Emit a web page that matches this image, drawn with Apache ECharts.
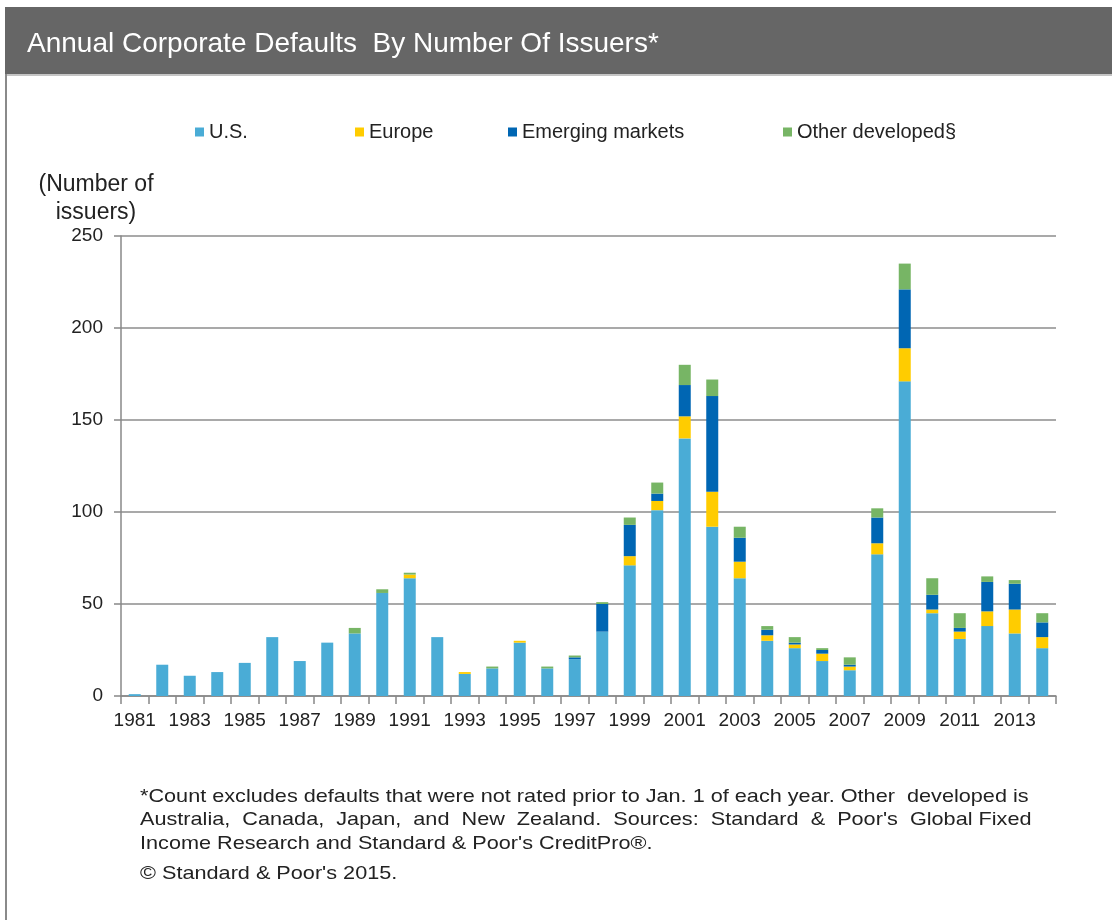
<!DOCTYPE html>
<html>
<head>
<meta charset="utf-8">
<title>Annual Corporate Defaults By Number Of Issuers</title>
<script src="https://cdn.jsdelivr.net/npm/echarts@6/dist/echarts.min.js"></script>
<style>
  html, body { margin: 0; padding: 0; background: #fff; }
  #chart { width: 1112px; height: 920px; }
</style>
</head>
<body>
<div id="chart"></div>
<script>
// 数据
const years = ['1981','1982','1983','1984','1985','1986','1987','1988','1989','1990',
  '1991','1992','1993','1994','1995','1996','1997','1998','1999','2000',
  '2001','2002','2003','2004','2005','2006','2007','2008','2009','2010',
  '2011','2012','2013','2014']
const usData = [1,17,11,13,18,32,19,29,34,56,64,32,12,15,29,15,20,35,71,101,140,92,64,30,26,19,14,77,171,45,31,38,34,26]
const europeData = [0,0,0,0,0,0,0,0,0,0,2,0,1,0,1,0,0,0,5,5,12,19,9,3,2,4,2,6,18,2,4,8,13,6]
const emergingData = [0,0,0,0,0,0,0,0,0,0,0,0,0,0,0,0,1,15,17,4,17,52,13,3,1,2,1,14,32,8,2,16,14,8]
const otherData = [0,0,0,0,0,0,0,0,3,2,1,0,0,1,0,1,1,1,4,6,11,9,6,2,3,1,4,5,14,9,8,3,2,5]
const yTicks = [0, 50, 100, 150, 200, 250]

const seriesNames = ['U.S.', 'Europe', 'Emerging markets', 'Other developed§']
const colors = ['#4aacd6', '#ffcc00', '#0066b3', '#77b565']

const font = "'Liberation Sans', Arial, sans-serif"

const chart = echarts.init(document.getElementById('chart'))

const makeLegend = (name, left) => ({
  data: [name],
  left: left,
  top: 117,
  icon: 'rect',
  itemWidth: 9,
  itemHeight: 9,
  itemGap: 5,
  selectedMode: false,
  textStyle: { fontFamily: font, fontSize: 20, color: '#222' }
})

const option = {
  backgroundColor: '#fff',
  animation: false,
  color: colors,
  legend: [
    makeLegend(seriesNames[0], 190),
    makeLegend(seriesNames[1], 350),
    makeLegend(seriesNames[2], 503),
    makeLegend(seriesNames[3], 778)
  ],
  grid: { left: 121, right: 56, top: 236, bottom: 224 },
  xAxis: {
    type: 'category',
    data: years,
    axisLine: { lineStyle: { color: '#888', width: 1.5 } },
    axisTick: { show: true, interval: 0, length: 8, lineStyle: { color: '#888', width: 1.5 } },
    axisLabel: {
      interval: 1,
      margin: 15,
      fontFamily: font,
      fontSize: 19,
      color: '#222'
    }
  },
  yAxis: {
    type: 'value',
    min: yTicks[0],
    max: yTicks[yTicks.length - 1],
    interval: 50,
    axisLine: { show: true, lineStyle: { color: '#888', width: 1.5 } },
    axisTick: { show: true, length: 7, lineStyle: { color: '#888', width: 1.5 } },
    axisLabel: { margin: 18, fontFamily: font, fontSize: 19, color: '#222' },
    splitLine: { lineStyle: { color: '#8c8c8c', width: 1.5 } }
  },
  series: [usData, europeData, emergingData, otherData].map((d, i) => ({
    name: seriesNames[i],
    type: 'bar',
    stack: 'total',
    barWidth: 12,
    itemStyle: { color: colors[i] },
    data: d
  })),
  graphic: [
    // 标题栏
    { type: 'rect', left: 5, top: 7, shape: { width: 1107, height: 67 }, style: { fill: '#666' }, z: 0 },
    { type: 'rect', left: 5, top: 74, shape: { width: 1107, height: 2 }, style: { fill: '#c4c4c4' }, z: 0 },
    { type: 'rect', left: 5, top: 74, shape: { width: 2, height: 846 }, style: { fill: '#8a8a8a' }, z: 0 },
    {
      type: 'text', x: 27, y: 44,
      style: {
        text: 'Annual Corporate Defaults  By Number Of Issuers*', fill: '#fff',
        font: '28px ' + font, verticalAlign: 'middle'
      }
    },
    {
      type: 'text', x: 96, y: 171,
      style: {
        text: '(Number of\nissuers)', fill: '#222', font: '23px ' + font,
        align: 'center', lineHeight: 28
      }
    },
    // 脚注
    {
      type: 'text', x: 140, y: 785, scaleX: 1.14,
      style: {
        text: '*Count excludes defaults that were not rated prior to Jan. 1 of each year. Other  developed is\n' +
          'Australia,  Canada,  Japan,  and  New  Zealand.  Sources:  Standard  &  Poor\'s  Global Fixed\n' +
          'Income Research and Standard & Poor\'s CreditPro®.',
        fill: '#222', font: '19px ' + font, lineHeight: 23.5
      }
    },
    {
      type: 'text', x: 140, y: 864, scaleX: 1.14,
      style: { text: '© Standard & Poor\'s 2015.', fill: '#222', font: '19px ' + font }
    }
  ]
}

chart.setOption(option)
window.addEventListener('resize', () => chart.resize())
</script>
</body>
</html>
